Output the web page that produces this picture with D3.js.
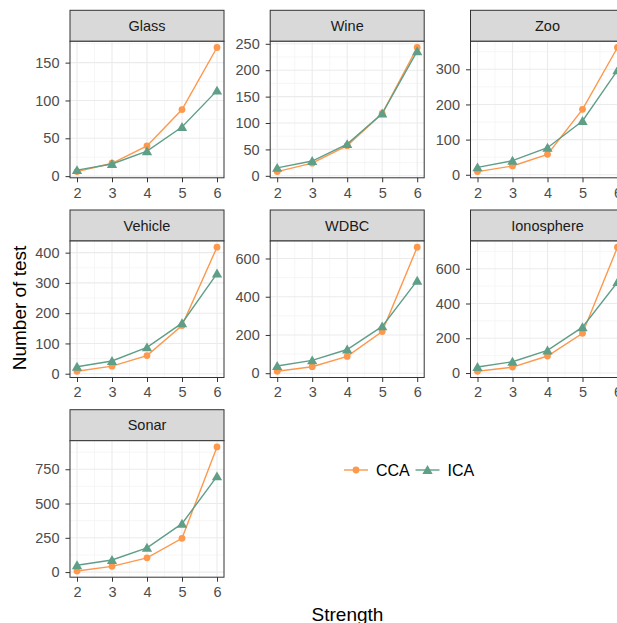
<!DOCTYPE html>
<html>
<head>
<meta charset="utf-8">
<script src="https://cdn.jsdelivr.net/npm/d3@7"></script>
<style>
  body { margin: 0; background: #fff; }
  svg { display: block; font-family: "Liberation Sans", Arial, sans-serif; }
</style>
</head>
<body>
<div id="chart"></div>
<script>
// x values shared by every facet
const strengths = [2, 3, 4, 5, 6];
const panelNames = ['Glass', 'Wine', 'Zoo', 'Vehicle', 'WDBC', 'Ionosphere', 'Sonar'];
const seriesNames = ['CCA', 'ICA'];

// values
const glassCCA = [6, 17, 40, 88, 170];
const glassICA = [8, 16, 33, 65, 113];
const wineCCA = [8, 24, 57, 118, 243];
const wineICA = [15, 28, 60, 118, 236];
const zooCCA = [9, 25, 58, 186, 362];
const zooICA = [21, 40, 77, 153, 297];
const vehicleCCA = [8, 25, 60, 159, 418];
const vehicleICA = [23, 42, 87, 167, 331];
const wdbcCCA = [10, 34, 88, 218, 659];
const wdbcICA = [38, 67, 124, 245, 484];
const ionoCCA = [10, 34, 98, 229, 724];
const ionoICA = [35, 65, 130, 264, 523];
const sonarCCA = [8, 42, 104, 246, 913];
const sonarICA = [50, 88, 177, 353, 698];

// y tick labels per facet
const glassTicks = [0, 50, 100, 150];
const wineTicks = [0, 50, 100, 150, 200, 250];
const zooTicks = [0, 100, 200, 300];
const vehicleTicks = [0, 100, 200, 300, 400];
const wdbcTicks = [0, 200, 400, 600];
const ionoTicks = [0, 200, 400, 600];
const sonarTicks = [0, 250, 500, 750];

const panels = [
  { name: panelNames[0], cca: glassCCA, ica: glassICA, ticks: glassTicks },
  { name: panelNames[1], cca: wineCCA, ica: wineICA, ticks: wineTicks },
  { name: panelNames[2], cca: zooCCA, ica: zooICA, ticks: zooTicks },
  { name: panelNames[3], cca: vehicleCCA, ica: vehicleICA, ticks: vehicleTicks },
  { name: panelNames[4], cca: wdbcCCA, ica: wdbcICA, ticks: wdbcTicks },
  { name: panelNames[5], cca: ionoCCA, ica: ionoICA, ticks: ionoTicks },
  { name: panelNames[6], cca: sonarCCA, ica: sonarICA, ticks: sonarTicks },
];

const colors = { CCA: '#FD984C', ICA: '#5F9E87' };

const width = 617;
const height = 623;
const colLeft = [70, 270.2, 470.5];
const rowTop = [10.3, 210, 409.7];
const panelWidth = 154;
const stripHeight = 31;
const panelHeight = 136.5;

const svg = d3.select('#chart').append('svg')
  .attr('width', width)
  .attr('height', height);

const tri = d3.symbol().type(d3.symbolTriangle).size(46);

panels.forEach((p, i) => {
  const col = i % 3;
  const row = Math.floor(i / 3);
  const g = svg.append('g')
    .attr('transform', 'translate(' + colLeft[col] + ',' + rowTop[row] + ')');

  // strip
  g.append('rect')
    .attr('width', panelWidth)
    .attr('height', stripHeight)
    .attr('fill', '#D9D9D9')
    .attr('stroke', '#333333')
    .attr('stroke-width', 1);
  g.append('text')
    .attr('x', panelWidth / 2)
    .attr('y', stripHeight / 2)
    .attr('dy', '0.36em')
    .attr('text-anchor', 'middle')
    .attr('font-size', '14.5px')
    .attr('fill', '#1A1A1A')
    .text(p.name);

  const pg = g.append('g').attr('transform', 'translate(0,' + stripHeight + ')');

  const x = d3.scaleLinear()
    .domain([1.8, 6.2])
    .range([0, panelWidth]);

  const all = p.cca.concat(p.ica);
  const lo = d3.min(all);
  const hi = d3.max(all);
  const pad = (hi - lo) * 0.05;
  const y = d3.scaleLinear()
    .domain([lo - pad, hi + pad])
    .range([panelHeight, 0]);

  pg.append('rect')
    .attr('width', panelWidth)
    .attr('height', panelHeight)
    .attr('fill', '#fff');

  // minor grid
  const step = p.ticks[1] - p.ticks[0];
  const yMinor = [];
  for (let v = p.ticks[0] - step / 2; v <= y.domain()[1]; v += step) {
    if (v >= y.domain()[0]) yMinor.push(v);
  }
  const xMinor = strengths.slice(1).map(s => s - 0.5);

  pg.selectAll('.minor-y').data(yMinor).enter().append('line')
    .attr('x1', 0).attr('x2', panelWidth)
    .attr('y1', d => y(d)).attr('y2', d => y(d))
    .attr('stroke', '#F2F2F2').attr('stroke-width', 0.7);
  pg.selectAll('.minor-x').data(xMinor).enter().append('line')
    .attr('x1', d => x(d)).attr('x2', d => x(d))
    .attr('y1', 0).attr('y2', panelHeight)
    .attr('stroke', '#F2F2F2').attr('stroke-width', 0.7);

  // major grid
  pg.selectAll('.major-y').data(p.ticks).enter().append('line')
    .attr('x1', 0).attr('x2', panelWidth)
    .attr('y1', d => y(d)).attr('y2', d => y(d))
    .attr('stroke', '#EBEBEB').attr('stroke-width', 1.1);
  pg.selectAll('.major-x').data(strengths).enter().append('line')
    .attr('x1', d => x(d)).attr('x2', d => x(d))
    .attr('y1', 0).attr('y2', panelHeight)
    .attr('stroke', '#EBEBEB').attr('stroke-width', 1.1);

  const line = d3.line()
    .x((d, j) => x(strengths[j]))
    .y(d => y(d));

  // CCA
  pg.append('path')
    .datum(p.cca)
    .attr('d', line)
    .attr('fill', 'none')
    .attr('stroke', colors.CCA)
    .attr('stroke-width', 1.4);
  pg.selectAll('.pt-cca').data(p.cca).enter().append('circle')
    .attr('cx', (d, j) => x(strengths[j]))
    .attr('cy', d => y(d))
    .attr('r', 3.4)
    .attr('fill', colors.CCA);

  // ICA
  pg.append('path')
    .datum(p.ica)
    .attr('d', line)
    .attr('fill', 'none')
    .attr('stroke', colors.ICA)
    .attr('stroke-width', 1.4);
  pg.selectAll('.pt-ica').data(p.ica).enter().append('path')
    .attr('d', tri)
    .attr('transform', (d, j) => 'translate(' + x(strengths[j]) + ',' + (y(d) + 1) + ')')
    .attr('fill', colors.ICA);

  // border
  pg.append('rect')
    .attr('width', panelWidth)
    .attr('height', panelHeight)
    .attr('fill', 'none')
    .attr('stroke', '#333333')
    .attr('stroke-width', 1);

  // axes
  const yAxis = pg.append('g')
    .call(d3.axisLeft(y).tickValues(p.ticks).tickSize(4.5).tickPadding(6));
  const xAxis = pg.append('g')
    .attr('transform', 'translate(0,' + panelHeight + ')')
    .call(d3.axisBottom(x).tickValues(strengths).tickFormat(d3.format('d'))
      .tickSize(4.5).tickPadding(5));
  [yAxis, xAxis].forEach(a => {
    a.select('.domain').remove();
    a.selectAll('line').attr('stroke', '#333333');
    a.selectAll('text')
      .attr('fill', '#4D4D4D')
      .attr('font-size', '14.5px')
      .attr('font-family', '"Liberation Sans", Arial, sans-serif');
  });
});

// legend
const legend = svg.append('g').attr('transform', 'translate(344,470)');
const keyX = [0, 71.5];
seriesNames.forEach((s, i) => {
  const k = legend.append('g').attr('transform', 'translate(' + keyX[i] + ',0)');
  k.append('line')
    .attr('x1', 0).attr('x2', 24)
    .attr('y1', 0).attr('y2', 0)
    .attr('stroke', colors[s])
    .attr('stroke-width', 1.4);
  if (s === 'CCA') {
    k.append('circle').attr('cx', 12).attr('cy', 0).attr('r', 3.4).attr('fill', colors[s]);
  } else {
    k.append('path').attr('d', tri).attr('transform', 'translate(12,1)').attr('fill', colors[s]);
  }
  k.append('text')
    .attr('x', 32)
    .attr('y', 0)
    .attr('dy', '0.36em')
    .attr('font-size', '16px')
    .attr('fill', '#000')
    .text(s);
});

// axis titles
svg.append('text')
  .attr('x', 347.5)
  .attr('y', 621)
  .attr('text-anchor', 'middle')
  .attr('font-size', '19px')
  .attr('fill', '#000')
  .text('Strength');

svg.append('text')
  .attr('transform', 'translate(25.5,308) rotate(-90)')
  .attr('text-anchor', 'middle')
  .attr('font-size', '19px')
  .attr('fill', '#000')
  .text('Number of test');
</script>
</body>
</html>
